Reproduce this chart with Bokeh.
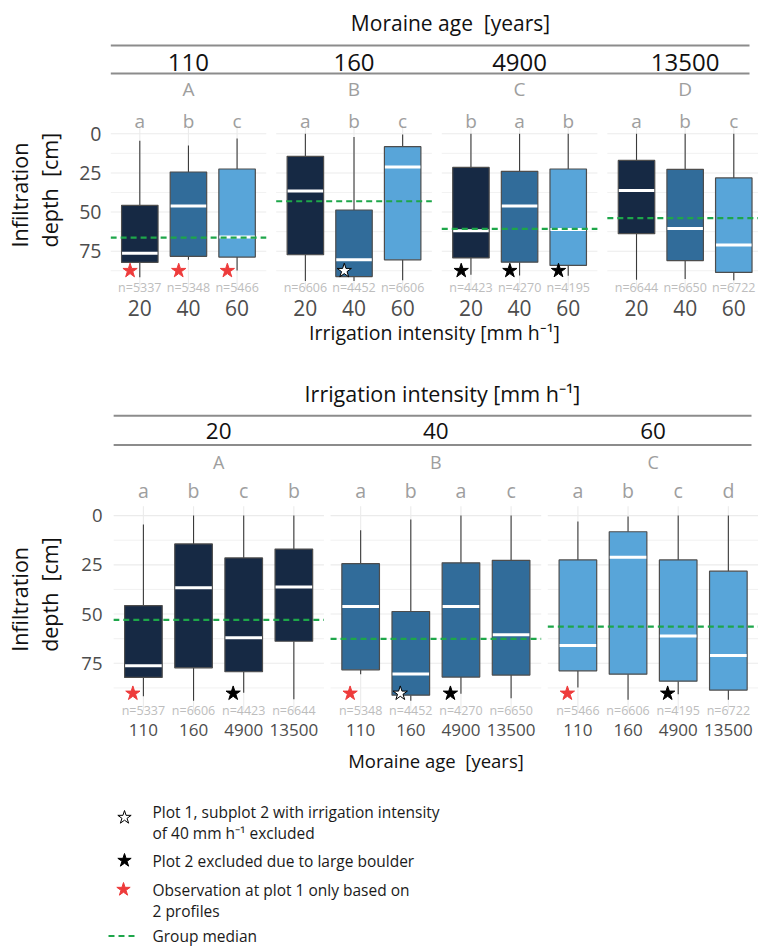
import numpy as np
from bokeh.plotting import figure
from bokeh.models import Range1d, FixedTicker
from bokeh.layouts import column, row
from bokeh.embed import file_html
from bokeh.resources import INLINE
from bokeh.core.properties import value

FONT = "Open Sans"

# ---------------- data ----------------
ages = ["110", "160", "4900", "13500"]
intensities = ["20", "40", "60"]
age_title = "Moraine age\u00a0 [years]"
int_title = "Irrigation intensity [mm h\u207b\u00b9]"

# one entry per (moraine age, irrigation intensity) combination
combo_age = ["110", "110", "110", "160", "160", "160",
             "4900", "4900", "4900", "13500", "13500", "13500"]
combo_int = ["20", "40", "60", "20", "40", "60",
             "20", "40", "60", "20", "40", "60"]
whisker_low = [4.5, 7.5, 3.0, 0.0, 2.0, 0.5, 0.0, 0.0, 0.0, 0.0, 0.0, 0.0]
q1 = [45.7, 24.4, 22.5, 14.4, 48.7, 8.2, 21.5, 24.0, 22.5, 17.0, 22.7, 28.2]
median = [76.3, 46.2, 66.0, 36.6, 80.4, 21.2, 62.0, 46.2, 61.2, 36.2, 60.5, 71.1]
q3 = [82.2, 78.3, 78.8, 77.3, 91.2, 80.5, 79.3, 82.0, 84.1, 63.8, 81.0, 88.6]
whisker_high = [91.7, 80.5, 87.3, 94.0, 94.0, 93.5, 90.0, 90.5, 90.7, 93.2, 92.7, 93.5]
n_obs = [5337, 5348, 5466, 6606, 4452, 6606, 4423, 4270, 4195, 6644, 6650, 6722]
flags = ["red", "red", "red", "", "white", "", "black", "black", "black", "", "", ""]
letters_by_age = ["a", "b", "c", "a", "b", "c", "b", "a", "b", "a", "b", "c"]
letters_by_int = ["a", "a", "a", "b", "b", "b", "c", "a", "c", "b", "c", "d"]

age_tags = ["A", "B", "C", "D"]
int_tags = ["A", "B", "C"]
age_group_median = [66.3, 43.1, 60.7, 53.9]
int_group_median = [53.0, 62.6, 56.4]

int_colors = {"20": "#162944", "40": "#316C9A", "60": "#58A5D9"}

legend_texts = [["Plot 1, subplot 2 with irrigation intensity", "of 40 mm h\u207b\u00b9 excluded"],
                ["Plot 2 excluded due to large boulder"],
                ["Observation at plot 1 only based on", "2 profiles"],
                ["Group median"]]

# ---------------- layout geometry (page pixels) ----------------
PAGE_L, PAGE_R, YT_W = 0, 758, 70
geo_top = dict(cat1=139.3, sx=48.64, gap=0.204, zero=133.3, sy=1.565,
               fl=110, top=0, bottom=350, fb=293, line_end=749,
               title_cx=450, title_mid=22.5, lines=[45, 73], strip_mid=61.5,
               tag_mid=88.3, letter_mid=120, n_mid=286.7,
               star_y=87.5, star_dx=-0.2, yt_start=247, xlab_standoff=0)
fs_top = dict(title=21, strip=24, tag=19, letter=19, n=12.5, ytick=19.5, xtick=21,
              xlab=19.5, ytitle=21.5, ystand=3)
geo_bot = dict(cat1=142.9, sx=50.15, gap=0.132, zero=516, sy=1.98,
               fl=113, top=350, bottom=775, fb=719, line_end=751,
               title_cx=442, title_mid=393.7, lines=[415.7, 445], strip_mid=430.8,
               tag_mid=462.2, letter_mid=491, n_mid=712.2,
               star_y=90.3, star_dx=-0.21, yt_start=653, xlab_standoff=9)
fs_bot = dict(title=21.5, strip=22.5, tag=18, letter=19.5, n=12.5, ytick=18.5, xtick=17,
              xlab=18.5, ytitle=21.5, ystand=5)

GRID = "#EBEBEB"
GREY_TXT = "#9E9E9E"
N_TXT = "#BDBDBD"
TICK_TXT = "#4D4D4D"


def style_blank(f):
    f.outline_line_color = None
    f.background_fill_color = "white"
    f.border_fill_color = "white"
    f.xgrid.visible = False
    f.ygrid.visible = False


def build_main(panel_keys, cat_keys, combo_panel, combo_cat, letters, tags,
               group_med, title, xlabel, g, fs):
    ncat = len(cat_keys)
    stride = ncat + 0.2 + g["gap"]

    def X(px):
        return 1 + (px - g["cat1"]) / g["sx"]

    def Y(py):
        return (py - g["zero"]) / g["sy"]

    p = figure(width=PAGE_R - PAGE_L - YT_W, height=g["bottom"] - g["top"],
               x_range=Range1d(X(g["fl"]), X(PAGE_R)),
               y_range=Range1d(Y(g["fb"]), Y(g["top"])),
               output_backend="svg", toolbar_location=None,
               min_border_left=g["fl"] - PAGE_L - YT_W, min_border_right=0,
               min_border_top=0, min_border_bottom=g["bottom"] - g["fb"])
    style_blank(p)

    off = {k: j * stride for j, k in enumerate(panel_keys)}
    idx = {k: i for i, k in enumerate(cat_keys)}
    xs = [round(off[a] + idx[b] + 1, 4) for a, b in zip(combo_panel, combo_cat)]
    left = [off[k] + 0.4 for k in panel_keys]
    right = [off[k] + ncat + 0.6 for k in panel_keys]
    centers = [off[k] + (ncat + 1) / 2 for k in panel_keys]
    fills = [int_colors[i] for i in combo_int]

    # panel grid
    gx0, gx1, gy, gw = [], [], [], []
    for a, b in zip(left, right):
        for v in (0, 25, 50, 75):
            gx0.append(a); gx1.append(b); gy.append(v); gw.append(1.1)
        for v in (12.5, 37.5, 62.5, 87.5):
            gx0.append(a); gx1.append(b); gy.append(v); gw.append(0.7)
    p.segment(x0=gx0, y0=gy, x1=gx1, y1=gy, line_color=GRID, line_width=gw)
    p.segment(x0=xs, y0=-4.7, x1=xs, y1=99.0, line_color=GRID, line_width=1.1)

    # boxplots
    p.segment(x0=xs, y0=whisker_low, x1=xs, y1=q1, line_color="#3a3a3a", line_width=1.1)
    p.segment(x0=xs, y0=q3, x1=xs, y1=whisker_high, line_color="#3a3a3a", line_width=1.1)
    p.vbar(x=xs, width=0.75, bottom=q1, top=q3, fill_color=fills,
           line_color="#4D4D4D", line_width=1.2)
    p.segment(x0=[x - 0.365 for x in xs], y0=median, x1=[x + 0.365 for x in xs],
              y1=median, line_color="white", line_width=3)

    # group medians
    p.segment(x0=left, y0=group_med, x1=right, y1=group_med, line_color="#1EA64A",
              line_width=2.2, line_dash="6 4")

    # flags
    star_fill = {"red": "#EE3B3B", "black": "#000000", "white": "#FFFFFF"}
    star_line = {"red": "#EE3B3B", "black": "#000000", "white": "#000000"}
    sx_, sf, sl = [], [], []
    for x, fl in zip(xs, flags):
        if fl:
            sx_.append(x + g["star_dx"]); sf.append(star_fill[fl]); sl.append(star_line[fl])
    p.scatter(x=sx_, y=g["star_y"], marker="star", size=15, fill_color=sf,
              line_color=sl, line_width=1)

    # texts inside the panel area
    tf = value(FONT)
    p.text(x=xs, y=Y(g["letter_mid"]), text=letters, text_font=tf,
           text_font_size=f"{fs['letter']}px", text_color=GREY_TXT,
           text_align="center", text_baseline="middle")
    p.text(x=xs, y=Y(g["n_mid"]), text=[f"n={n}" for n in n_obs], text_font=tf,
           text_font_size=f"{fs['n']}px", text_color=N_TXT,
           text_align="center", text_baseline="middle")
    p.text(x=centers, y=Y(g["tag_mid"]), text=tags, text_font=tf,
           text_font_size=f"{fs['tag']}px", text_color=GREY_TXT,
           text_align="center", text_baseline="middle")
    p.text(x=centers, y=Y(g["strip_mid"]), text=panel_keys, text_font=tf,
           text_font_size=f"{fs['strip']}px", text_color="#111111",
           text_align="center", text_baseline="middle")
    p.text(x=[X(g["title_cx"])], y=Y(g["title_mid"]), text=[title], text_font=tf,
           text_font_size=f"{fs['title']}px", text_color="#111111",
           text_align="center", text_baseline="middle")
    for ly in g["lines"]:
        p.segment(x0=left[0], y0=Y(ly), x1=min(right[-1], X(g["line_end"])), y1=Y(ly),
                  line_color="#8C8C8C", line_width=2)

    # axes
    p.xaxis.ticker = FixedTicker(ticks=sorted(xs))
    p.xaxis.major_label_overrides = {x: c for x, c in zip(xs, combo_cat)}
    p.yaxis.ticker = FixedTicker(ticks=[0, 25, 50, 75])
    for ax in (p.xaxis[0], p.yaxis[0]):
        ax.axis_line_color = None
        ax.major_tick_line_color = None
        ax.minor_tick_line_color = None
        ax.major_label_text_font = FONT
        ax.major_label_text_color = TICK_TXT
    p.xaxis.major_label_text_font_size = f"{fs['xtick']}px"
    p.xaxis.major_label_standoff = 0
    p.yaxis.major_label_text_font_size = f"{fs['ytick']}px"
    p.yaxis.major_label_standoff = fs["ystand"]
    p.xaxis.axis_label = xlabel
    p.xaxis.axis_label_text_font = FONT
    p.xaxis.axis_label_text_font_style = "normal"
    p.xaxis.axis_label_text_font_size = f"{fs['xlab']}px"
    p.xaxis.axis_label_text_color = "#111111"
    p.xaxis.axis_label_standoff = g["xlab_standoff"]
    return p


def build_ytitle(g, fs):
    # same vertical borders as the panel figure next to it, so the frames line up
    f = figure(width=YT_W, height=g["bottom"] - g["top"],
               x_range=Range1d(PAGE_L, PAGE_L + YT_W),
               y_range=Range1d(g["fb"], g["top"]),
               x_axis_type=None, y_axis_type=None,
               min_border_left=0, min_border_right=0, min_border_top=0,
               min_border_bottom=g["bottom"] - g["fb"],
               output_backend="svg", toolbar_location=None)
    style_blank(f)
    f.text(x=[19, 49], y=[g["yt_start"], g["yt_start"]],
           text=["Infiltration", "depth\u00a0 [cm]"],
           angle=np.pi / 2, text_font=value(FONT), text_font_size=f"{fs['ytitle']}px",
           text_color="#111111", text_align="left", text_baseline="middle")
    return f


top = build_main(ages, intensities, combo_age, combo_int, letters_by_age, age_tags,
                 age_group_median, age_title, int_title, geo_top, fs_top)
bot = build_main(intensities, ages, combo_int, combo_age, letters_by_int, int_tags,
                 int_group_median, int_title, age_title, geo_bot, fs_bot)

# ---------------- legend ----------------
LEG_TOP, LEG_BOT = 775, 947
leg = figure(width=PAGE_R - PAGE_L, height=LEG_BOT - LEG_TOP,
             x_range=Range1d(PAGE_L, PAGE_R), y_range=Range1d(LEG_BOT, LEG_TOP),
             x_axis_type=None, y_axis_type=None, min_border=0,
             output_backend="svg", toolbar_location=None)
style_blank(leg)
leg.scatter(x=[124, 124, 123], y=[817, 860, 889], marker="star", size=14,
            fill_color=["#FFFFFF", "#000000", "#EE3B3B"],
            line_color=["#000000", "#000000", "#EE3B3B"], line_width=1)
leg.segment(x0=[108], y0=[935.5], x1=[137], y1=[935.5], line_color="#1EA64A",
            line_width=2.2, line_dash="6 4")
line_y = [[811.7, 832.7], [860.5], [889, 910], [935.5]]
tx, ty, tt = [], [], []
for lines, ys in zip(legend_texts, line_y):
    for t, y in zip(lines, ys):
        tx.append(152); ty.append(y); tt.append(t)
leg.text(x=tx, y=ty, text=tt, text_font=value(FONT), text_font_size="15.5px",
         text_color="#1a1a1a", text_align="left", text_baseline="middle")

layout = column(row(build_ytitle(geo_top, fs_top), top),
                row(build_ytitle(geo_bot, fs_bot), bot),
                leg)

open("out.html", "w").write(file_html(layout, INLINE))
